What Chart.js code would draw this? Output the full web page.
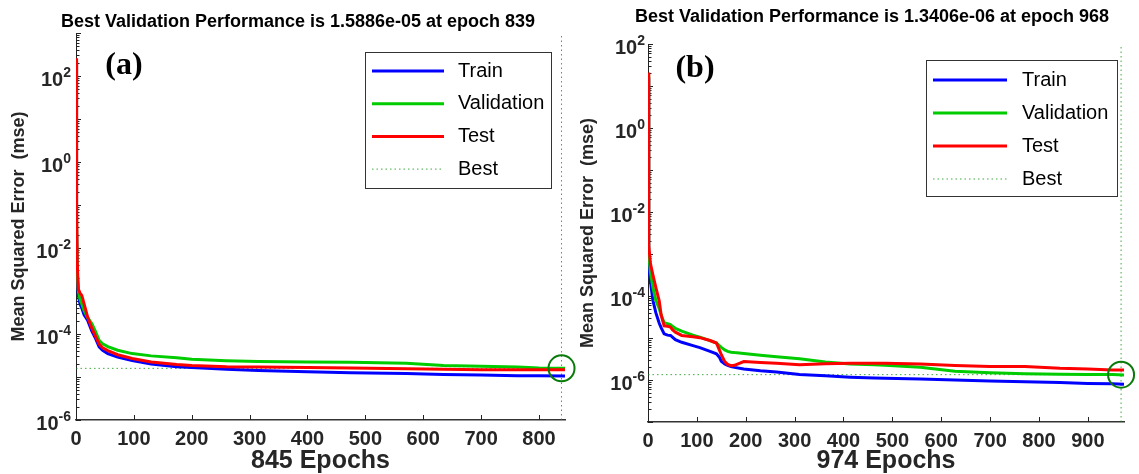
<!DOCTYPE html>
<html>
<head>
<meta charset="utf-8">
<script src="https://cdn.jsdelivr.net/npm/chart.js@4"></script>
<style>
  body { margin: 0; background: #fff; }
  #wrap { position: relative; width: 1139px; height: 474px; overflow: hidden; }
  canvas { position: absolute; top: 0; }
  #chartA { left: 0; }
  #chartB { left: 570px; }
</style>
</head>
<body>
<div id="wrap">
  <canvas id="chartA" width="590" height="474"></canvas>
  <canvas id="chartB" width="569" height="474"></canvas>
</div>
<script>
// panel (a): 845 epochs
const epochsA = [0, 1, 2, 4, 7, 10, 14, 20, 27, 33, 40, 46, 55, 72, 97, 130, 174, 200, 260, 315, 400, 475, 571, 635, 700, 763, 800, 845];
const trainA = [200, 3.2e-2, 2.5e-3, 8.0e-4, 5.0e-4, 4.0e-4, 2.8e-4, 2.1e-4, 1.2e-4, 8.3e-5, 5.0e-5, 4.2e-5, 3.5e-5, 2.9e-5, 2.4e-5, 2.0e-5, 1.74e-5, 1.66e-5, 1.51e-5, 1.41e-5, 1.32e-5, 1.26e-5, 1.2e-5, 1.15e-5, 1.12e-5, 1.07e-5, 1.07e-5, 1.05e-5];
const valA = [220, 5.0e-2, 3.2e-3, 1.0e-3, 6.3e-4, 5.0e-4, 3.5e-4, 2.4e-4, 1.78e-4, 1.2e-4, 7.1e-5, 5.9e-5, 5.1e-5, 4.2e-5, 3.5e-5, 3.1e-5, 2.8e-5, 2.6e-5, 2.4e-5, 2.3e-5, 2.24e-5, 2.19e-5, 2.1e-5, 1.86e-5, 1.78e-5, 1.7e-5, 1.62e-5, 1.59e-5];
const testA = [260, 0.1, 5.0e-3, 1.1e-3, 8.9e-4, 7.9e-4, 5.0e-4, 2.5e-4, 1.4e-4, 9.3e-5, 5.8e-5, 4.8e-5, 4.1e-5, 3.3e-5, 2.7e-5, 2.24e-5, 1.95e-5, 1.86e-5, 1.74e-5, 1.7e-5, 1.66e-5, 1.62e-5, 1.55e-5, 1.51e-5, 1.48e-5, 1.48e-5, 1.48e-5, 1.48e-5];
const xTicksA = [0, 100, 200, 300, 400, 500, 600, 700, 800];
const yLabelsA = [1e2, 1e0, 1e-2, 1e-4, 1e-6];
const bestEpochA = 839;
const bestMseA = 1.5886e-5;

// panel (b): 974 epochs
const epochsB = [0, 1, 2, 5, 10, 16, 23, 27, 33, 40, 46, 50, 56, 69, 92, 106, 127, 140, 146, 150, 157, 163, 170, 177, 196, 230, 263, 310, 363, 414, 463, 485, 557, 628, 700, 771, 843, 900, 950, 974];
const trainB = [16, 3.2e-3, 5.8e-4, 2.2e-4, 7.9e-5, 4.0e-5, 2.24e-5, 1.74e-5, 1.26e-5, 1.17e-5, 1.15e-5, 1.05e-5, 9.1e-6, 7.9e-6, 6.6e-6, 5.9e-6, 4.8e-6, 4.2e-6, 3.5e-6, 2.8e-6, 2.4e-6, 2.24e-6, 2.1e-6, 2.0e-6, 1.82e-6, 1.66e-6, 1.55e-6, 1.35e-6, 1.26e-6, 1.17e-6, 1.12e-6, 1.1e-6, 1.05e-6, 1.0e-6, 9.5e-7, 9.1e-7, 8.7e-7, 8.3e-7, 8.1e-7, 7.9e-7];
const valB = [18, 5.0e-3, 1.0e-3, 3.6e-4, 1.6e-4, 7.9e-5, 5.0e-5, 3.5e-5, 2.3e-5, 2.2e-5, 2.1e-5, 1.9e-5, 1.7e-5, 1.45e-5, 1.17e-5, 1.05e-5, 8.7e-6, 7.6e-6, 6.6e-6, 6.0e-6, 5.2e-6, 4.8e-6, 4.6e-6, 4.5e-6, 4.3e-6, 3.9e-6, 3.6e-6, 3.2e-6, 2.7e-6, 2.4e-6, 2.3e-6, 2.24e-6, 2.0e-6, 1.62e-6, 1.48e-6, 1.41e-6, 1.38e-6, 1.35e-6, 1.35e-6, 1.32e-6];
const testB = [21, 1.6e-2, 1.6e-3, 5.9e-4, 3.2e-4, 1.6e-4, 7.6e-5, 3.5e-5, 1.95e-5, 1.9e-5, 1.82e-5, 1.58e-5, 1.38e-5, 1.15e-5, 1.07e-5, 1.02e-5, 8.7e-6, 7.6e-6, 5.2e-6, 4.0e-6, 2.75e-6, 2.35e-6, 2.2e-6, 2.24e-6, 2.75e-6, 2.6e-6, 2.5e-6, 2.3e-6, 2.45e-6, 2.5e-6, 2.5e-6, 2.5e-6, 2.4e-6, 2.2e-6, 2.1e-6, 2.1e-6, 1.9e-6, 1.82e-6, 1.74e-6, 1.74e-6];
const xTicksB = [0, 100, 200, 300, 400, 500, 600, 700, 800, 900];
const yLabelsB = [1e2, 1e0, 1e-2, 1e-4, 1e-6];
const bestEpochB = 968;
const bestMseB = 1.3406e-6;

const FONT = '"Liberation Sans", Arial, Helvetica, sans-serif';
const TXT = '#262626';
const BEST = 'rgba(0,140,0,0.75)';

Chart.defaults.font.family = FONT;

function isPow10(v) {
  return Math.abs(Math.log10(v) - Math.round(Math.log10(v))) < 1e-6;
}

// 1..9 x 10^n ticks, like matlab minor ticks
function logTicks(min, max) {
  const out = [];
  for (let e = Math.round(Math.log10(min)); e < Math.round(Math.log10(max)); e++) {
    for (let k = 1; k < 10; k++) out.push({ value: k * Math.pow(10, e) });
  }
  out.push({ value: max });
  return out;
}

function pts(xs, ys) {
  return xs.map((x, i) => ({ x: x, y: ys[i] }));
}

// matlab style ticks pointing into the axes + 10^n labels with raised exponent
const inTicks = {
  id: 'inTicks',
  beforeDatasetsDraw(chart, args, o) {
    const ctx = chart.ctx;
    const a = chart.chartArea;
    const sx = chart.scales.x;
    const sy = chart.scales.y;
    ctx.save();
    ctx.strokeStyle = '#222';
    ctx.lineWidth = 1;
    ctx.beginPath();
    sx.ticks.forEach(t => {
      const px = Math.round(sx.getPixelForValue(t.value)) + 0.5;
      ctx.moveTo(px, a.bottom);
      ctx.lineTo(px, a.bottom - 5);
    });
    sy.ticks.forEach(t => {
      const py = Math.round(sy.getPixelForValue(t.value)) + 0.5;
      ctx.moveTo(a.left, py);
      ctx.lineTo(a.left + (isPow10(t.value) ? 5 : 3.5), py);
    });
    ctx.stroke();

    ctx.fillStyle = TXT;
    ctx.textBaseline = 'middle';
    const right = a.left - o.gap;
    o.labels.forEach(v => {
      const py = sy.getPixelForValue(v);
      const exp = String(Math.round(Math.log10(v)));
      ctx.font = 'bold 14px ' + FONT;
      const ew = ctx.measureText(exp).width;
      ctx.textAlign = 'left';
      ctx.fillText(exp, right - ew, py - 3);
      ctx.font = 'bold 20px ' + FONT;
      ctx.textAlign = 'right';
      ctx.fillText('10', right - ew, py + 4);
    });
    ctx.restore();
  }
};

// title, (a)/(b) tag and the boxed legend
const panelDeco = {
  id: 'panelDeco',
  afterDraw(chart, args, o) {
    const ctx = chart.ctx;
    ctx.save();
    ctx.fillStyle = '#000';
    ctx.textAlign = 'center';
    ctx.textBaseline = 'middle';
    ctx.font = 'bold 18px ' + FONT;
    ctx.fillText(o.title, o.titleX, o.titleY);
    ctx.font = 'bold 32px "Liberation Serif", "Times New Roman", serif';
    ctx.fillText(o.tag, o.tagX, o.tagY);

    const L = o.legend;
    ctx.fillStyle = '#fff';
    ctx.fillRect(L.x, L.y, L.w, L.h);
    ctx.strokeStyle = '#333';
    ctx.lineWidth = 1;
    ctx.strokeRect(L.x + 0.5, L.y + 0.5, L.w, L.h);
    ctx.font = '20px ' + FONT;
    ctx.textAlign = 'left';
    chart.data.datasets.filter(d => d.label).forEach((d, i) => {
      const y = L.rowY + i * L.rowGap;
      ctx.strokeStyle = d.borderColor;
      ctx.lineWidth = d.borderWidth || 3;
      ctx.setLineDash(d.borderDash || []);
      ctx.beginPath();
      ctx.moveTo(L.x0, y);
      ctx.lineTo(L.x1, y);
      ctx.stroke();
      ctx.setLineDash([]);
      ctx.fillStyle = '#000';
      ctx.fillText(d.label, L.textX, y);
    });
    ctx.restore();
  }
};

function makeChart(id, c) {
  return new Chart(document.getElementById(id), {
    type: 'line',
    data: {
      datasets: [
        { label: 'Train', data: pts(c.epochs, c.train), borderColor: '#0000ff', order: 3 },
        { label: 'Validation', data: pts(c.epochs, c.val), borderColor: '#00cc00', order: 2 },
        { label: 'Test', data: pts(c.epochs, c.test), borderColor: '#ff0000', order: 1 },
        { label: 'Best', data: [{ x: 0, y: c.best }, { x: c.xMax, y: c.best }], borderColor: BEST, borderWidth: 1, borderDash: [1.5, 3], order: 4 },
        { label: '', data: [{ x: c.bestEpoch, y: c.yMin }, { x: c.bestEpoch, y: c.yMax }], borderColor: BEST, borderWidth: 1, borderDash: [1.5, 3], order: 4 },
        { label: '', data: [{ x: c.bestEpoch, y: c.best }], showLine: false, clip: false, pointRadius: 13, pointBorderWidth: 2, pointBorderColor: '#0a7a0a', pointBackgroundColor: 'rgba(0,0,0,0)', order: 0 }
      ]
    },
    options: {
      responsive: false,
      animation: false,
      events: [],
      layout: { padding: c.pad },
      elements: {
        line: { borderWidth: 3, tension: 0, fill: false },
        point: { radius: 0, hoverRadius: 0 }
      },
      plugins: {
        legend: { display: false },
        tooltip: { enabled: false },
        inTicks: { labels: c.yLabels, gap: c.yLabelGap },
        panelDeco: c.deco
      },
      scales: {
        x: {
          type: 'linear',
          min: 0,
          max: c.xMax,
          afterBuildTicks: s => { s.ticks = c.xTicks.map(v => ({ value: v })); },
          afterFit: s => { s.height = c.xAxisH; },
          grid: { drawOnChartArea: false, drawTicks: false },
          border: { color: '#333', width: 1.5 },
          ticks: { autoSkip: false, maxRotation: 0, padding: 7, color: TXT, font: { size: 20, weight: 'bold' }, callback: v => String(v) },
          title: { display: true, text: c.xTitle, color: TXT, font: { size: 25, weight: 'bold', lineHeight: 1 }, padding: { top: 0, bottom: 0 } }
        },
        y: {
          type: 'logarithmic',
          min: c.yMin,
          max: c.yMax,
          afterBuildTicks: s => { s.ticks = logTicks(c.yMin, c.yMax); },
          afterFit: s => { s.width = c.yAxisW; },
          grid: { drawOnChartArea: false, drawTicks: false },
          border: { color: '#222', width: 1 },
          ticks: { display: false, autoSkip: false },
          title: { display: true, text: 'Mean Squared Error  (mse)', color: TXT, font: { size: 18, weight: 'bold' }, padding: { top: c.yTitlePad, bottom: 0 } }
        }
      }
    },
    plugins: [inTicks, panelDeco]
  });
}

makeChart('chartA', {
  epochs: epochsA, train: trainA, val: valA, test: testA,
  xTicks: xTicksA, yLabels: yLabelsA,
  best: bestMseA, bestEpoch: bestEpochA,
  xMax: 845, yMin: 1e-6, yMax: 1e3,
  xTitle: '845 Epochs',
  pad: { left: 0, top: 33, right: 25, bottom: 0 },
  xAxisH: 54, yAxisW: 76, yLabelGap: 5, yTitlePad: 8,
  deco: {
    title: 'Best Validation Performance is 1.5886e-05 at epoch 839', titleX: 298, titleY: 22,
    tag: '(a)', tagX: 124, tagY: 66,
    legend: { x: 365, y: 52, w: 186, h: 136, x0: 372, x1: 444, textX: 458, rowY: 71, rowGap: 32.7 }
  }
});

makeChart('chartB', {
  epochs: epochsB, train: trainB, val: valB, test: testB,
  xTicks: xTicksB, yLabels: yLabelsB,
  best: bestMseB, bestEpoch: bestEpochB,
  xMax: 974, yMin: 1e-7, yMax: 1e2,
  xTitle: '974 Epochs',
  pad: { left: 0, top: 44, right: 4, bottom: 0 },
  xAxisH: 52, yAxisW: 78, yLabelGap: 3, yTitlePad: 7,
  deco: {
    title: 'Best Validation Performance is 1.3406e-06 at epoch 968', titleX: 302, titleY: 17,
    tag: '(b)', tagX: 125, tagY: 69,
    legend: { x: 356, y: 60, w: 191, h: 136, x0: 363, x1: 437, textX: 452, rowY: 80, rowGap: 33 }
  }
});
</script>
</body>
</html>
